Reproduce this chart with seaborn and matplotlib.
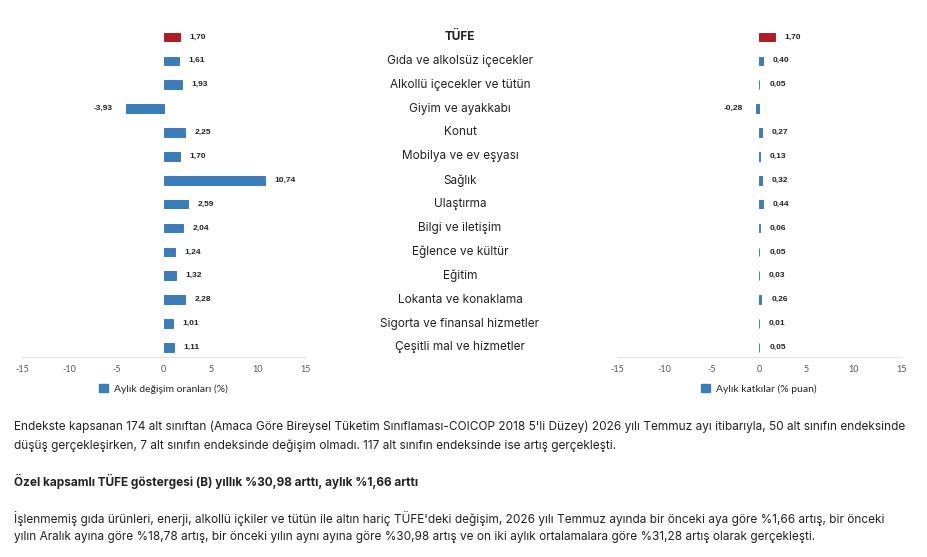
import pandas as pd
import seaborn as sns
import matplotlib.pyplot as plt
import matplotlib.transforms as mtransforms
from matplotlib.patches import Patch

# Data
categories = ['TÜFE', 'Gıda ve alkolsüz içecekler', 'Alkollü içecekler ve tütün',
              'Giyim ve ayakkabı', 'Konut', 'Mobilya ve ev eşyası', 'Sağlık',
              'Ulaştırma', 'Bilgi ve iletişim', 'Eğlence ve kültür', 'Eğitim',
              'Lokanta ve konaklama', 'Sigorta ve finansal hizmetler',
              'Çeşitli mal ve hizmetler']
monthly_change = [1.70, 1.61, 1.93, -3.93, 2.25, 1.70, 10.74, 2.59, 2.04, 1.24, 1.32, 2.28, 1.01, 1.11]
monthly_contrib = [1.70, 0.40, 0.05, -0.28, 0.27, 0.13, 0.32, 0.44, 0.06, 0.05, 0.03, 0.26, 0.01, 0.05]
x_ticks = [-15, -10, -5, 0, 5, 10, 15]
legend_left = 'Aylık değişim oranları (%)'
legend_right = 'Aylık katkılar (% puan)'

para1 = ["Endekste kapsanan 174 alt sınıftan (Amaca Göre Bireysel Tüketim Sınıflaması-COICOP 2018 5'li Düzey) 2026 yılı Temmuz ayı itibarıyla, 50 alt sınıfın endeksinde",
         "düşüş gerçekleşirken, 7 alt sınıfın endeksinde değişim olmadı. 117 alt sınıfın endeksinde ise artış gerçekleşti."]
heading = "Özel kapsamlı TÜFE göstergesi (B) yıllık %30,98 arttı, aylık %1,66 arttı"
para2 = ["İşlenmemiş gıda ürünleri, enerji, alkollü içkiler ve tütün ile altın hariç TÜFE'deki değişim, 2026 yılı Temmuz ayında bir önceki aya göre %1,66 artış, bir önceki",
         "yılın Aralık ayına göre %18,78 artış, bir önceki yılın aynı ayına göre %30,98 artış ve on iki aylık ortalamalara göre %31,28 artış olarak gerçekleşti."]

blue = '#3a7dbd'
red = '#b11c22'
palette = {c: (red if c == 'TÜFE' else blue) for c in categories}

df = pd.DataFrame({'kategori': categories, 'degisim': monthly_change, 'katki': monthly_contrib})

sns.set_style('white')
plt.rcParams['font.family'] = ['Inter', 'DejaVu Sans']

fig = plt.figure(figsize=(9.27, 5.57), dpi=100)
ax1 = fig.add_axes([22 / 927, 1 - 357 / 557, 283 / 927, 332 / 557])
ax2 = fig.add_axes([617 / 927, 1 - 357 / 557, 284 / 927, 332 / 557])


def draw_panel(ax, col, legend_text):
    sns.barplot(data=df, x=col, y='kategori', hue='kategori', palette=palette,
                legend=False, width=0.36, orient='h', ax=ax, saturation=1)
    # thin outline so that very small bars stay visible
    for bar in ax.patches:
        bar.set_edgecolor(bar.get_facecolor())
        bar.set_linewidth(0.7)
    ax.set_xlim(-15, 15)
    ax.set_ylim(13.4, -0.5)
    ax.set_xticks(x_ticks)
    ax.set_xticklabels([str(t) for t in x_ticks], fontsize=6.5, color='#555555', family='Lato')
    ax.tick_params(axis='x', length=0, pad=6)
    ax.tick_params(axis='y', left=False, labelleft=False)
    ax.set_xlabel('')
    ax.set_ylabel('')
    for s in ['top', 'right', 'left']:
        ax.spines[s].set_visible(False)
    ax.spines['bottom'].set_color('#e3e3e3')
    # value labels
    for i, v in enumerate(df[col]):
        txt = f'{v:.2f}'.replace('.', ',')
        if v >= 0:
            ax.annotate(txt, (v, i), xytext=(7, 0), textcoords='offset points',
                        ha='left', va='center', fontsize=6, fontweight='bold',
                        family='Liberation Sans', color='#222222')
        else:
            ax.annotate(txt, (v, i), xytext=(-10, 0), textcoords='offset points',
                        ha='right', va='center', fontsize=6, fontweight='bold',
                        family='Liberation Sans', color='#222222')
    ax.legend(handles=[Patch(color=blue, label=legend_text)], loc='upper center',
              bbox_to_anchor=(0.5, -0.052), frameon=False,
              handlelength=0.9, handleheight=0.9, handletextpad=0.6,
              prop={'family': 'Lato', 'size': 7.5})


draw_panel(ax1, 'degisim', legend_left)
draw_panel(ax2, 'katki', legend_right)

# Category names in the middle, aligned with the bar rows
trans = mtransforms.blended_transform_factory(fig.transFigure, ax1.transData)
for i, c in enumerate(categories):
    fig.text(460 / 927, i, c, transform=trans, ha='center', va='center',
             fontsize=8.5, color='#222222', fontweight='bold' if c == 'TÜFE' else 'normal')

# Text below the charts
text_color = '#222222'
fs = 8.5
fig.text(14 / 927, 1 - 427 / 557, para1[0], fontsize=fs, color=text_color, va='center')
fig.text(14 / 927, 1 - 446 / 557, para1[1], fontsize=fs, color=text_color, va='center')
fig.text(14 / 927, 1 - 481 / 557, heading, fontsize=fs, color=text_color, va='center', fontweight='bold')
fig.text(14 / 927, 1 - 519 / 557, para2[0], fontsize=fs, color=text_color, va='center')
fig.text(14 / 927, 1 - 537 / 557, para2[1], fontsize=fs, color=text_color, va='center')

fig.savefig('out.png', dpi=100)
